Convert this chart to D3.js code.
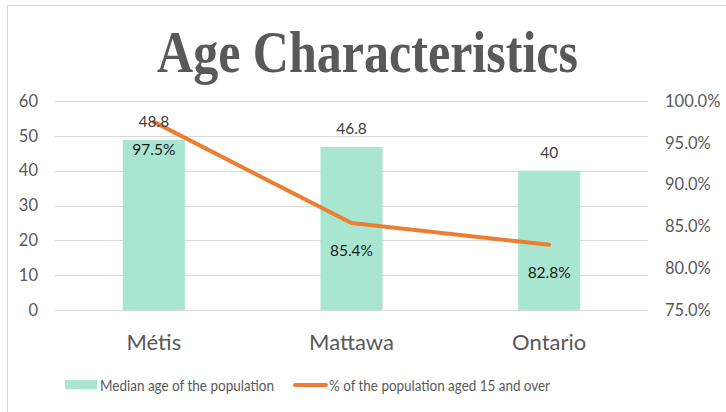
<!DOCTYPE html>
<html><head><meta charset="utf-8">
<script src="https://cdn.jsdelivr.net/npm/d3@7"></script>
<style>
body{margin:0;background:#fff;}
svg{display:block;}
</style></head>
<body>
<svg id="chart" width="726" height="412"></svg>
<script>
const categories = ["Métis", "Mattawa", "Ontario"];
const medianAge = [48.8, 46.8, 40];
const pctOver15 = [0.975, 0.854, 0.828];
const leftTicks = [0, 10, 20, 30, 40, 50, 60];
const rightTicks = [0.75, 0.80, 0.85, 0.90, 0.95, 1.00];
const titleText = "Age Characteristics";
const seriesNames = ["Median age of the population", "% of the population aged 15 and over"];

const svg = d3.select("#chart");
const W = 726, H = 412;
const plot = {left: 55, right: 648, top: 101, bottom: 310};
const barColor = "#a8e6d1", lineColor = "#ed7d31", gridColor = "#d9d9d9", textGray = "#595959";
const sans = "Lato, 'Open Sans', sans-serif";

svg.append("rect").attr("x", 0).attr("y", 0).attr("width", W).attr("height", H).attr("fill", "#fff");
svg.append("rect").attr("x", 7.5).attr("y", 5.5).attr("width", 740).attr("height", 440)
  .attr("fill", "none").attr("stroke", gridColor).attr("stroke-width", 1);

// title
svg.append("text").attr("x", 367.5).attr("y", 72).attr("text-anchor", "middle")
  .attr("font-family", "'Liberation Serif', 'DejaVu Serif', serif").attr("font-weight", "bold")
  .attr("font-size", 59).attr("fill", textGray)
  .attr("textLength", 421).attr("lengthAdjust", "spacingAndGlyphs")
  .text(titleText);

const x = d3.scaleBand().domain(categories).range([plot.left, plot.right]).paddingInner(0).paddingOuter(0);
const yL = d3.scaleLinear().domain([0, 60]).range([plot.bottom, plot.top]);
const yR = d3.scaleLinear().domain([0.75, 1.0]).range([plot.bottom, plot.top]);
const cx = c => x(c) + x.bandwidth() / 2;
const barW = x.bandwidth() * 0.314;

// gridlines
svg.append("g").selectAll("line").data(leftTicks).join("line")
  .attr("x1", plot.left).attr("x2", plot.right)
  .attr("y1", d => Math.round(yL(d)) + 0.5).attr("y2", d => Math.round(yL(d)) + 0.5)
  .attr("stroke", gridColor).attr("stroke-width", 1);

// left axis
const gL = svg.append("g").attr("transform", `translate(${plot.left},0)`)
  .call(d3.axisLeft(yL).tickValues(leftTicks).tickSize(0).tickPadding(17).tickFormat(d3.format("d")));
gL.select(".domain").remove();
gL.selectAll("text").attr("font-family", sans).attr("font-size", 16.5).attr("fill", textGray);

// right axis
const gR = svg.append("g").attr("transform", `translate(${plot.right},0)`)
  .call(d3.axisRight(yR).tickValues(rightTicks).tickSize(0).tickPadding(17).tickFormat(d3.format(".1%")));
gR.select(".domain").remove();
gR.selectAll("text").attr("font-family", sans).attr("font-size", 16.5).attr("fill", textGray);

// bars
svg.append("g").selectAll("rect").data(categories).join("rect")
  .attr("x", (c) => cx(c) - barW / 2).attr("width", barW)
  .attr("y", (c, i) => yL(medianAge[i])).attr("height", (c, i) => plot.bottom - yL(medianAge[i]))
  .attr("fill", barColor);

// bottom axis
const gB = svg.append("g").attr("transform", `translate(0,${plot.bottom})`)
  .call(d3.axisBottom(x).tickSize(0).tickPadding(24));
gB.select(".domain").attr("stroke", gridColor).attr("d", `M${plot.left},0.5H${plot.right}`);
gB.selectAll("text").attr("font-family", sans).attr("font-size", 22).attr("fill", textGray);

// line
const line = d3.line().x((d, i) => cx(categories[i])).y(d => yR(d));
svg.append("path").datum(pctOver15).attr("d", line)
  .attr("fill", "none").attr("stroke", lineColor).attr("stroke-width", 4)
  .attr("stroke-linejoin", "round").attr("stroke-linecap", "round");

// bar labels
svg.append("g").selectAll("text").data(categories).join("text")
  .attr("x", c => cx(c)).attr("y", (c, i) => yL(medianAge[i]) - 19)
  .attr("text-anchor", "middle").attr("dominant-baseline", "central")
  .attr("font-family", sans).attr("font-size", 15.5).attr("fill", "#404040")
  .text((c, i) => medianAge[i]);

// line labels
svg.append("g").selectAll("text").data(categories).join("text")
  .attr("x", c => cx(c)).attr("y", (c, i) => yR(pctOver15[i]) + 27)
  .attr("text-anchor", "middle").attr("dominant-baseline", "central")
  .attr("font-family", sans).attr("font-size", 15.5).attr("fill", "#1a1a1a")
  .text((c, i) => d3.format(".1%")(pctOver15[i]));

// legend
const lg = svg.append("g");
lg.append("rect").attr("x", 65).attr("y", 380).attr("width", 32).attr("height", 9).attr("fill", barColor);
lg.append("text").attr("x", 100).attr("y", 385).attr("dominant-baseline", "central")
  .attr("font-family", sans).attr("font-size", 15.5).attr("fill", textGray)
  .attr("textLength", 174).attr("lengthAdjust", "spacingAndGlyphs").text(seriesNames[0]);
lg.append("line").attr("x1", 295).attr("x2", 326).attr("y1", 385).attr("y2", 385)
  .attr("stroke", lineColor).attr("stroke-width", 4).attr("stroke-linecap", "round");
lg.append("text").attr("x", 329).attr("y", 385).attr("dominant-baseline", "central")
  .attr("font-family", sans).attr("font-size", 15.5).attr("fill", textGray)
  .attr("textLength", 221).attr("lengthAdjust", "spacingAndGlyphs").text(seriesNames[1]);
</script>
</body></html>
